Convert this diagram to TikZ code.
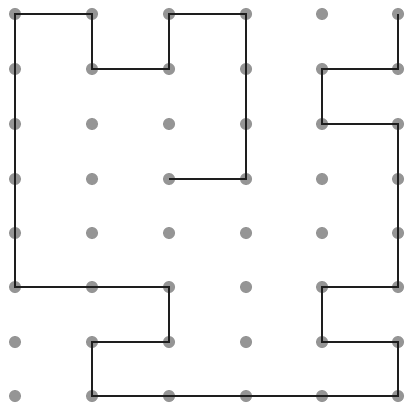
\documentclass[tikz,border=0pt]{standalone}
\begin{document}
\begin{tikzpicture}[x=1pt,y=-1pt,
  dot/.style={circle,fill=dotgray,inner sep=0pt,minimum size=12pt},
  wall/.style={line width=2pt,draw=wallblack,line join=miter}]
\definecolor{dotgray}{HTML}{959595}
\definecolor{wallblack}{HTML}{1E1E1E}
\useasboundingbox[fill=white] (0,0) rectangle (405,406);
\foreach \c/\x in {0/15,1/92,2/169,3/246,4/322,5/398}{
  \foreach \r/\y in {0/14,1/69,2/124,3/179,4/233,5/287,6/342,7/396}{
    \node[dot] (d\c\r) at (\x,\y) {};
  }
}
\draw[wall] (d32.center) -- (d33.center) -- (d23.center);
\draw[wall] (d33.center) -- (d30.center) -- (d20.center) -- (d21.center) -- (d11.center) -- (d10.center) -- (d00.center)
  -- (d05.center) -- (d25.center) -- (d26.center) -- (d16.center) -- (d17.center) -- (d57.center)
  -- (d56.center) -- (d46.center) -- (d45.center) -- (d55.center) -- (d52.center) -- (d42.center)
  -- (d41.center) -- (d51.center) -- (d50.center);
\end{tikzpicture}
\end{document}
